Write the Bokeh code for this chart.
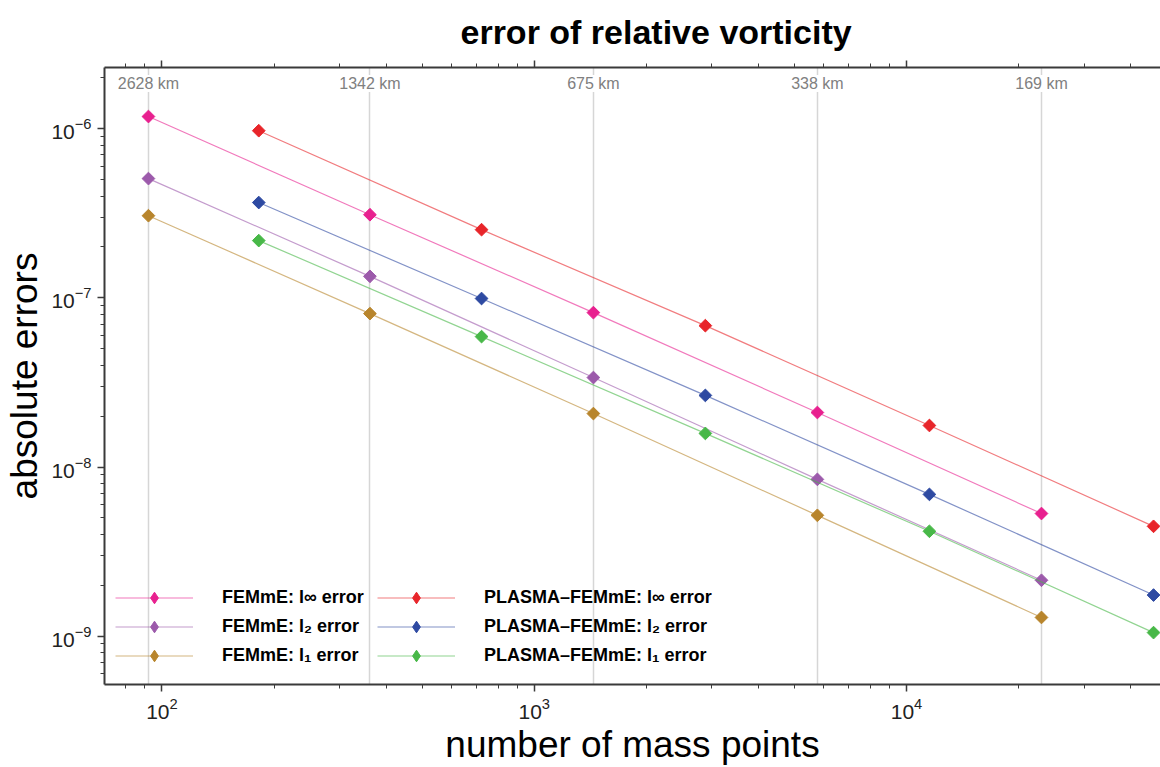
from bokeh.plotting import figure
from bokeh.models import (Range1d, LogAxis, LogTicker, FixedTicker, ColumnDataSource,
                          LabelSet, Legend, LegendItem)
from bokeh.core.properties import value
from bokeh.embed import file_html
from bokeh.resources import INLINE
import math

# ---------------- data ----------------
femme_n = [92, 362, 1442, 5762, 23042]
plasma_n = [182, 722, 2882, 11522, 46082]
femme_linf = [1.18e-6, 3.10e-7, 8.18e-8, 2.10e-8, 5.31e-9]
femme_l2 = [5.07e-7, 1.34e-7, 3.38e-8, 8.45e-9, 2.14e-9]
femme_l1 = [3.06e-7, 8.07e-8, 2.07e-8, 5.18e-9, 1.29e-9]
plasma_linf = [9.73e-7, 2.53e-7, 6.85e-8, 1.76e-8, 4.46e-9]
plasma_l2 = [3.66e-7, 9.91e-8, 2.65e-8, 6.89e-9, 1.75e-9]
plasma_l1 = [2.18e-7, 5.90e-8, 1.58e-8, 4.17e-9, 1.05e-9]
km_n = [92, 362, 1442, 5762, 23042]
km_labels = ["2628 km", "1342 km", "675 km", "338 km", "169 km"]

series_names = ["FEMmE: l\u221e error", "FEMmE: l\u2082 error", "FEMmE: l\u2081 error",
                "PLASMA\u2013FEMmE: l\u221e error", "PLASMA\u2013FEMmE: l\u2082 error",
                "PLASMA\u2013FEMmE: l\u2081 error"]
series_x = [femme_n, femme_n, femme_n, plasma_n, plasma_n, plasma_n]
series_y = [femme_linf, femme_l2, femme_l1, plasma_linf, plasma_l2, plasma_l1]
series_colors = ["#e8208f", "#9c5aab", "#b8852c", "#e8252a", "#2e4aa2", "#48b848"]

FONT = "Liberation Sans"

p = figure(frame_width=1056, frame_height=617,
           x_axis_type="log", y_axis_type="log",
           x_range=Range1d(70.1, 48110), y_range=Range1d(5.18e-10, 2.30e-6),
           min_border_left=104, min_border_right=0, min_border_top=66, min_border_bottom=84,
           output_backend="svg", toolbar_location=None)
p.outline_line_color = None
p.background_fill_color = "white"

# title
p.title.text = "error of relative vorticity"
p.title.text_font = FONT
p.title.text_font_size = "34px"
p.title.text_font_style = "bold"
p.title.text_color = "black"
p.title.text_line_height = 1.0
p.title.align = "left"
p.title.offset = 356
p.title.standoff = 20

# grid only at the resolution positions
p.ygrid.visible = False
p.xgrid.ticker = FixedTicker(ticks=km_n)
p.xgrid.grid_line_color = "#d6d6d6"
p.xgrid.grid_line_width = 1.5

def style_axis(ax):
    ax.axis_line_color = "#3a3a3a"
    ax.axis_line_width = 2
    ax.major_tick_line_color = "#3a3a3a"
    ax.minor_tick_line_color = "#3a3a3a"
    ax.major_tick_line_width = 1.5
    ax.minor_tick_line_width = 1
    ax.major_tick_out = 7
    ax.major_tick_in = 0
    ax.minor_tick_out = 4
    ax.minor_tick_in = 0
    ax.major_label_text_font = FONT
    ax.major_label_text_font_size = "21px"
    ax.major_label_text_color = "#222222"
    ax.axis_label_text_font = FONT
    ax.axis_label_text_font_style = "normal"
    ax.axis_label_text_color = "black"

xa = p.xaxis[0]
style_axis(xa)
xa.ticker = LogTicker(num_minor_ticks=10)
xa.axis_label = "number of mass points"
xa.axis_label_text_font_size = "37px"
xa.major_label_standoff = 6
xa.axis_label_standoff = 2

ya = p.yaxis[0]
style_axis(ya)
ya.ticker = LogTicker(num_minor_ticks=10)
ya.axis_label = "absolute errors"
ya.axis_label_text_font_size = "37px"
ya.major_label_standoff = 6
ya.axis_label_standoff = 3

top = LogAxis(ticker=LogTicker(num_minor_ticks=10))
style_axis(top)
top.major_label_text_font_size = "2px"
top.major_label_text_alpha = 0
top.major_label_standoff = 0
p.add_layout(top, "above")

# km labels along the top
km_src = ColumnDataSource(dict(x=km_n, y=[601] * len(km_n), t=km_labels))
p.add_layout(LabelSet(x="x", y="y", y_units="screen", text="t", source=km_src,
                      text_align="center", text_baseline="middle",
                      text_font=value(FONT), text_font_size="16px", text_color="#808080",
                      background_fill_color="white"))

items = []
for name, xs, ys, c in zip(series_names, series_x, series_y, series_colors):
    src = ColumnDataSource(dict(x=xs, y=ys))
    ln = p.line("x", "y", source=src, line_color=c, line_width=1.2, line_alpha=0.6)
    p.scatter("x", "y", source=src, marker="square", size=9, angle=math.pi / 4,
              fill_color=c, line_color=c)
    # legend-only diamond (legend glyphs ignore marker rotation)
    lg = p.scatter("x", "y", source=src, marker="diamond", size=12,
                   fill_color=c, line_color=c, visible=False)
    items.append(LegendItem(label=name, renderers=[ln, lg]))

legend = Legend(items=items, location=(11, 14), ncols=2,
                label_text_font=FONT, label_text_font_size="18px", label_text_font_style="bold",
                label_text_color="black",
                glyph_width=78, glyph_height=29, label_standoff=29, label_width=155,
                spacing=0, padding=0, margin=0, border_line_alpha=0, background_fill_alpha=0)
p.add_layout(legend, "center")

open("out.html", "w").write(file_html(p, INLINE))
